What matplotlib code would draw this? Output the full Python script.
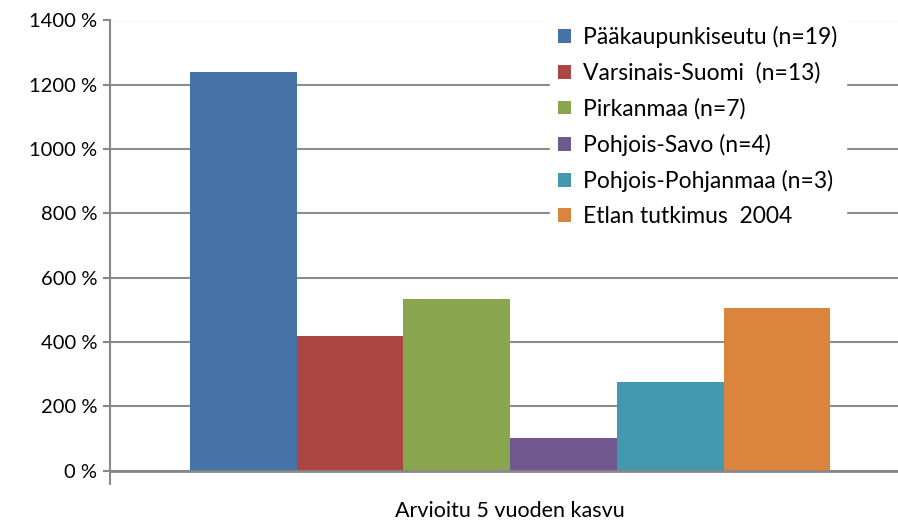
import matplotlib
matplotlib.use("Agg")
import matplotlib.pyplot as plt
from matplotlib.patches import Patch
from matplotlib.ticker import FuncFormatter

plt.rcParams['font.family'] = ['Lato', 'DejaVu Sans']

regions = ["Pääkaupunkiseutu (n=19)", "Varsinais-Suomi  (n=13)", "Pirkanmaa (n=7)",
           "Pohjois-Savo (n=4)", "Pohjois-Pohjanmaa (n=3)", "Etlan tutkimus  2004"]
growth = [1240, 420, 535, 100, 274, 507]
colors = ["#4572A7", "#AA4643", "#89A54E", "#71588F", "#4198AF", "#DB843D"]
category = "Arvioitu 5 vuoden kasvu"

fig = plt.figure(figsize=(8.98, 5.24), dpi=100)
ax = fig.add_axes([110 / 898, 53.5 / 524, 1 - 110 / 898, 450 / 524])

x = list(range(len(growth)))
ax.bar(x, growth, width=1.0, color=colors, zorder=2)

ax.set_xlim(-1.25, 6.135)
ax.set_ylim(0, 1400)
ax.set_yticks(range(0, 1401, 200))
ax.yaxis.set_major_formatter(FuncFormatter(lambda v, p: f"{int(v)} %"))
ax.tick_params(axis='y', labelsize=14.5, length=5, width=1.5, color='#888888', pad=4)
ax.set_xticks([-1.25])
ax.set_xticklabels([])
ax.tick_params(axis='x', length=10, width=1.5, color='#888888', direction='out')
ax.grid(axis='y', color='#8c8c8c', linewidth=1.5, zorder=0)
for s in ['top', 'right']:
    ax.spines[s].set_visible(False)
ax.spines['left'].set_color('#888888')
ax.spines['left'].set_linewidth(1.5)
ax.spines['bottom'].set_color('#888888')
ax.spines['bottom'].set_linewidth(2)
ax.set_xlabel(category, fontsize=15.5, va='center')
ax.xaxis.set_label_coords((510 - 110) / 788, -(511 - 470.5) / 450)

handles = [Patch(facecolor=c, edgecolor='none') for c in colors]
leg = ax.legend(handles, regions, loc='upper left', bbox_to_anchor=(550 / 898, 1 - 18 / 524),
                bbox_transform=fig.transFigure, borderaxespad=0, fontsize=16.5,
                handlelength=0.55, handleheight=0.55, handletextpad=0.55,
                labelspacing=0.62, frameon=True, fancybox=False, framealpha=1,
                edgecolor='white', facecolor='white', borderpad=0.35)
leg.set_zorder(5)

fig.savefig("out.png", dpi=100)
